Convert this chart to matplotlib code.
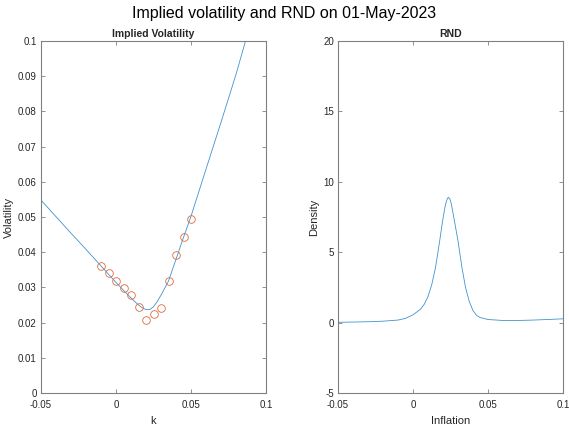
#!/usr/bin/env python3
"""
Implied volatility smile and risk-neutral density for the 01-May-2023 snapshot.
"""

import matplotlib
matplotlib.use("Agg")
import matplotlib.pyplot as plt
from matplotlib.ticker import FixedLocator, FuncFormatter

plt.rcParams['font.family'] = ['Liberation Sans', 'DejaVu Sans']

# Observed implied vols (strike in log-moneyness k)
k_obs = [-0.01, -0.005, 0.0, 0.005, 0.01, 0.015, 0.02, 0.025, 0.03, 0.035, 0.04, 0.045, 0.05]
vol_obs = [0.0362, 0.0341, 0.0319, 0.0299, 0.0278, 0.0243, 0.0207, 0.0224, 0.0241,
           0.0317, 0.0392, 0.0442, 0.0493]

# Fitted smile
k_fit = [-0.05, -0.04, -0.03, -0.02, -0.01, 0.0, 0.005, 0.01, 0.015, 0.0175, 0.02,
         0.0225, 0.025, 0.0275, 0.03, 0.0325, 0.035, 0.04, 0.045, 0.05, 0.06, 0.07,
         0.08, 0.086, 0.09]
vol_fit = [0.0548, 0.0501, 0.0454, 0.0408, 0.0361, 0.0314, 0.0292, 0.0270, 0.0250,
           0.0242, 0.0237, 0.0237, 0.0245, 0.0260, 0.0278, 0.0298, 0.0318, 0.0380,
           0.0442, 0.0502, 0.0636, 0.0769, 0.0905, 0.0995, 0.1055]

# Risk-neutral density over inflation
infl = [-0.05, -0.04, -0.03, -0.02, -0.01, -0.005, 0.0, 0.005, 0.0075, 0.01, 0.0125,
        0.015, 0.0175, 0.02, 0.0215, 0.0225, 0.0235, 0.0245, 0.0255, 0.0275, 0.03,
        0.0325, 0.035, 0.0375, 0.04, 0.0425, 0.045, 0.05, 0.06, 0.07, 0.08, 0.09, 0.1]
dens = [0.02, 0.04, 0.06, 0.1, 0.18, 0.3, 0.55, 0.95, 1.3, 1.85, 2.7, 3.9, 5.6, 7.4,
        8.3, 8.7, 8.9, 8.8, 8.45, 7.3, 5.8, 4.0, 2.5, 1.5, 0.85, 0.5, 0.35, 0.22,
        0.15, 0.15, 0.18, 0.22, 0.27]

x_ticks = [-0.05, 0.0, 0.05, 0.1]
vol_ticks = [0.0, 0.01, 0.02, 0.03, 0.04, 0.05, 0.06, 0.07, 0.08, 0.09, 0.1]
dens_ticks = [-5, 0, 5, 10, 15, 20]

BLUE = '#3f93cf'
ORANGE = '#de6a3c'
FRAME = '#808080'
TEXT = '#262626'


def fmt(v, pos):
    return ('%g' % round(v, 6))


def style_axes(ax):
    for sp in ax.spines.values():
        sp.set_color(FRAME)
        sp.set_linewidth(0.8)
    ax.tick_params(direction='in', length=3, width=0.6, color=FRAME,
                   labelcolor=TEXT, labelsize=7, top=True, right=True)
    ax.tick_params(axis='x', pad=5)
    ax.tick_params(axis='y', pad=3)
    ax.xaxis.set_major_formatter(FuncFormatter(fmt))
    ax.yaxis.set_major_formatter(FuncFormatter(fmt))


fig = plt.figure(figsize=(5.69, 4.25), dpi=100)

ax1 = fig.add_axes([41 / 569, 32 / 425, 225 / 569, 352 / 425])
ax1.plot(k_fit, vol_fit, color=BLUE, lw=0.6)
ax1.plot(k_obs, vol_obs, 'o', mfc='none', mec=ORANGE, ms=5.5, mew=0.6)
ax1.set_xlim(-0.05, 0.1)
ax1.set_ylim(0, 0.1)
ax1.xaxis.set_major_locator(FixedLocator(x_ticks))
ax1.yaxis.set_major_locator(FixedLocator(vol_ticks))
style_axes(ax1)
ax1.set_title('Implied Volatility', fontsize=7.5, fontweight='bold', pad=3, color=TEXT)
ax1.set_xlabel('k', fontsize=8, labelpad=4, color=TEXT)
ax1.set_ylabel('Volatility', fontsize=8, labelpad=3, color=TEXT)

ax2 = fig.add_axes([338 / 569, 32 / 425, 225 / 569, 352 / 425])
ax2.plot(infl, dens, color=BLUE, lw=0.6)
ax2.set_xlim(-0.05, 0.1)
ax2.set_ylim(-5, 20)
ax2.xaxis.set_major_locator(FixedLocator(x_ticks))
ax2.yaxis.set_major_locator(FixedLocator(dens_ticks))
style_axes(ax2)
ax2.set_title('RND', fontsize=7.5, fontweight='bold', pad=3, color=TEXT)
ax2.set_xlabel('Inflation', fontsize=8, labelpad=4, color=TEXT)
ax2.set_ylabel('Density', fontsize=8, labelpad=3, color=TEXT)

fig.suptitle('Implied volatility and RND on 01-May-2023', fontsize=11.5, y=0.985)

fig.savefig('out.png', dpi=100)
